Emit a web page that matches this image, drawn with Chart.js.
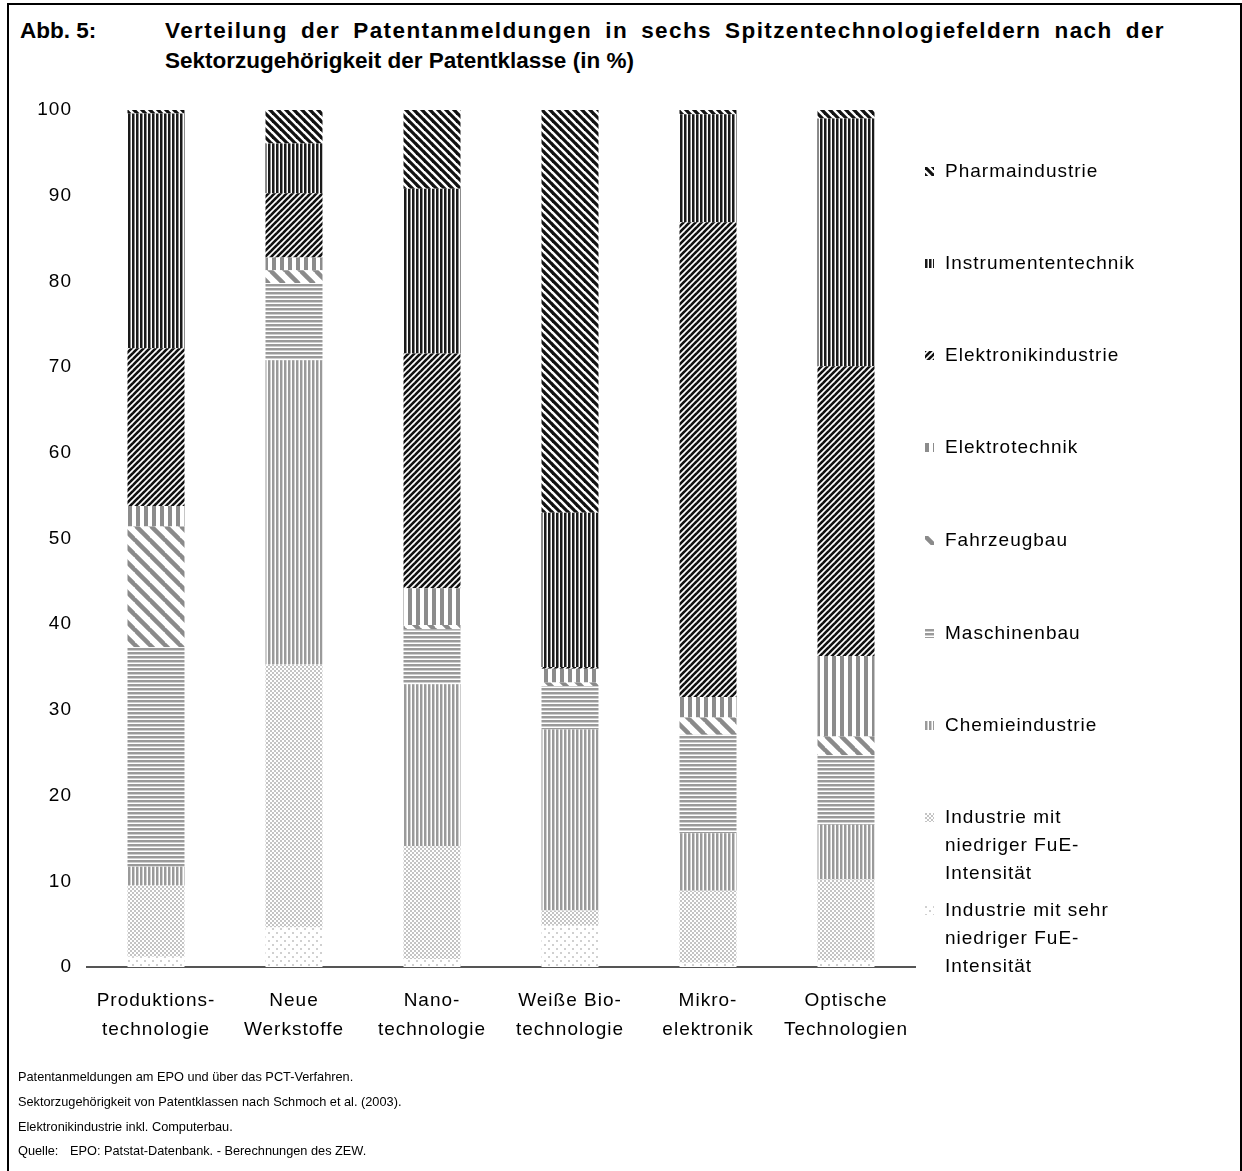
<!DOCTYPE html>
<html>
<head>
<meta charset="utf-8">
<script src="https://cdn.jsdelivr.net/npm/chart.js@4.4.0/dist/chart.umd.min.js"></script>
<style>
  body { margin: 0; background: #fff; font-family: 'Liberation Sans', Arial, sans-serif; }
  #wrap { position: relative; width: 1242px; height: 1171px; overflow: hidden; }
  #frame { position: absolute; left: 7px; top: 3px; width: 1231px; height: 1200px; border: 2px solid #000; }
  .title { position: absolute; font-weight: bold; font-size: 22.5px; color: #000; white-space: nowrap; }
  .just { white-space: normal; width: 1000px; letter-spacing: 1.4px; text-align: justify; text-align-last: justify; }
  #chart { position: absolute; left: 0; top: 0; }
  .leg { position: absolute; left: 925px; font-size: 19px; letter-spacing: 1px; line-height: 28px; color: #000; }
  .leg canvas { position: absolute; left: 0; top: 10px; }
  .leg span { position: absolute; left: 20px; top: 0; white-space: nowrap; }
  .note { position: absolute; left: 18px; font-size: 12.75px; color: #000; white-space: nowrap; }
</style>
</head>
<body>
<div id="wrap">
  <div id="frame"></div>
  <div class="title" style="left:20px;top:18px;">Abb. 5:</div>
  <div class="title just" style="left:165px;top:18px;">Verteilung der Patentanmeldungen in sechs Spitzentechnologiefeldern nach der</div>
  <div class="title" style="left:165px;top:48px;">Sektorzugehörigkeit der Patentklasse (in %)</div>
  <canvas id="chart" width="1242" height="1171"></canvas>
  <div id="legend"></div>
  <div class="note" style="top:1069px;">Patentanmeldungen am EPO und über das PCT-Verfahren.</div>
  <div class="note" style="top:1094px;">Sektorzugehörigkeit von Patentklassen nach Schmoch et al. (2003).</div>
  <div class="note" style="top:1119px;">Elektronikindustrie inkl. Computerbau.</div>
  <div class="note" style="top:1143px;">Quelle:<span style="position:absolute;left:52px;">EPO: Patstat-Datenbank. - Berechnungen des ZEW.</span></div>
</div>
<script>
// Kategorien (Spitzentechnologiefelder)
const kategorien = [
    ['Produktions-', 'technologie'],
    ['Neue', 'Werkstoffe'],
    ['Nano-', 'technologie'],
    ['Weiße Bio-', 'technologie'],
    ['Mikro-', 'elektronik'],
    ['Optische', 'Technologien']
];

// Anteile in % je Sektor (von unten nach oben gestapelt)
const sehrNiedrig    = [1.2, 4.6, 0.9, 4.8, 0.5, 0.8];
const niedrig        = [8.3, 30.7, 13.2, 1.8, 8.4, 9.4];
const chemie         = [2.2, 35.5, 18.9, 21.1, 6.7, 6.4];
const maschinenbau   = [25.6, 9.0, 6.4, 5.1, 11.5, 8.1];
const fahrzeugbau    = [14.1, 1.5, 0.5, 0.4, 2.0, 2.2];
const elektrotechnik = [2.4, 1.5, 4.3, 1.6, 2.4, 9.4];
const elektronik     = [18.4, 7.5, 27.4, 0.2, 55.4, 33.8];
const instrumente    = [27.4, 5.8, 19.2, 18.0, 12.6, 28.9];
const pharma         = [0.4, 3.9, 9.2, 47.0, 0.5, 1.0];

const yTicks = [0, 10, 20, 30, 40, 50, 60, 70, 80, 90, 100];

const FONT = "'Liberation Sans', Arial, sans-serif";

// Muster-Hilfsfunktionen
function tile(w, h, draw) {
    const c = document.createElement('canvas');
    c.width = w; c.height = h;
    const g = c.getContext('2d');
    g.fillStyle = '#fff';
    g.fillRect(0, 0, w, h);
    draw(g, w, h);
    return c;
}

function vStripes(period, lineW, color, color2) {
    return tile(period, period, (g, w, h) => {
        if (color2) { g.fillStyle = color2; g.fillRect(lineW, 0, 1, h); }
        g.fillStyle = color;
        g.fillRect(0, 0, lineW, h);
    });
}

function hStripes(period, lineW, color, color2) {
    return tile(period, period, (g, w, h) => {
        if (color2) { g.fillStyle = color2; g.fillRect(0, lineW, w, 1); }
        g.fillStyle = color;
        g.fillRect(0, 0, w, lineW);
    });
}

function diag(period, lineW, color, dir) {
    return tile(period, period, (g, w, h) => {
        g.strokeStyle = color;
        g.lineWidth = lineW;
        for (let k = -1; k <= 1; k++) {
            g.beginPath();
            if (dir === 'back') {
                g.moveTo(-1, k * h - 1);
                g.lineTo(w + 1, k * h + h + 1);
            } else {
                g.moveTo(-1, k * h + h + 1);
                g.lineTo(w + 1, k * h - 1);
            }
            g.stroke();
        }
    });
}

function dots(step, size, color) {
    return tile(step, step, (g, w, h) => {
        g.fillStyle = color;
        g.fillRect(0, 0, size, size);
        g.fillRect(step / 2, step / 2, size, size);
    });
}

const musterQuellen = {
    sehrNiedrig:    dots(8, 2, '#d0d0d0'),
    niedrig:        dots(4, 2, '#c4c4c4'),
    chemie:         vStripes(4, 2, '#9a9a9a', '#cfcfcf'),
    maschinenbau:   hStripes(4, 2, '#9a9a9a', '#cfcfcf'),
    fahrzeugbau:    diag(15, 4.5, '#8a8a8a', 'back'),
    elektrotechnik: vStripes(8, 4, '#8c8c8c'),
    elektronik:     diag(6, 2.6, '#111', 'fwd'),
    instrumente:    vStripes(4, 2, '#1a1a1a', '#888'),
    pharma:         diag(8, 3.2, '#111', 'back')
};

const ctx = document.getElementById('chart').getContext('2d');
const muster = {};
for (const k in musterQuellen) muster[k] = ctx.createPattern(musterQuellen[k], 'repeat');

const serien = [
    { label: 'Industrie mit sehr niedriger FuE-Intensität', data: sehrNiedrig, key: 'sehrNiedrig', lines: ['Industrie mit sehr', 'niedriger FuE-', 'Intensität'] },
    { label: 'Industrie mit niedriger FuE-Intensität', data: niedrig, key: 'niedrig', lines: ['Industrie mit', 'niedriger FuE-', 'Intensität'] },
    { label: 'Chemieindustrie', data: chemie, key: 'chemie' },
    { label: 'Maschinenbau', data: maschinenbau, key: 'maschinenbau' },
    { label: 'Fahrzeugbau', data: fahrzeugbau, key: 'fahrzeugbau' },
    { label: 'Elektrotechnik', data: elektrotechnik, key: 'elektrotechnik' },
    { label: 'Elektronikindustrie', data: elektronik, key: 'elektronik' },
    { label: 'Instrumententechnik', data: instrumente, key: 'instrumente' },
    { label: 'Pharmaindustrie', data: pharma, key: 'pharma' }
];

// etwas gesperrte Schrift wie im Original
const sperrung = {
    id: 'sperrung',
    beforeUpdate: chart => { chart.ctx.letterSpacing = '1px'; },
    beforeDraw: chart => { chart.ctx.letterSpacing = '1px'; }
};

new Chart(ctx, {
    type: 'bar',
    data: {
        labels: kategorien,
        datasets: serien.map(s => ({
            label: s.label,
            data: s.data,
            backgroundColor: muster[s.key],
            borderWidth: 0,
            categoryPercentage: 1,
            barPercentage: 0.413
        }))
    },
    plugins: [sperrung],
    options: {
        responsive: false,
        animation: false,
        layout: { padding: { left: 0, right: 327, top: 110, bottom: 124 } },
        plugins: { legend: { display: false }, tooltip: { enabled: false } },
        scales: {
            x: {
                stacked: true,
                grid: { display: false, drawTicks: false },
                border: { display: true, color: '#555', width: 2 },
                ticks: { color: '#000', font: { family: FONT, size: 19, lineHeight: 1.55 }, padding: 19, maxRotation: 0, autoSkip: false },
                afterFit: s => { s.height = 80; }
            },
            y: {
                stacked: true,
                min: 0, max: 100,
                afterBuildTicks: s => { s.ticks = yTicks.map(v => ({ value: v })); },
                grid: { display: false, drawTicks: false },
                border: { display: false },
                ticks: { color: '#000', font: { family: FONT, size: 19 }, padding: 15 },
                afterFit: s => { s.width = 87; }
            }
        }
    }
});

// Legende rechts (umgekehrte Reihenfolge)
const legendeY = [171, 263, 355, 447, 540, 633, 725, 817, 910];
const leg = document.getElementById('legend');
serien.slice().reverse().forEach((s, i) => {
    const d = document.createElement('div');
    d.className = 'leg';
    d.style.top = (legendeY[i] - 14) + 'px';
    const c = document.createElement('canvas');
    c.width = 9; c.height = 9;
    const g = c.getContext('2d');
    g.fillStyle = g.createPattern(musterQuellen[s.key], 'repeat');
    g.fillRect(0, 0, 9, 9);
    d.appendChild(c);
    const sp = document.createElement('span');
    sp.innerHTML = (s.lines || [s.label]).join('<br>');
    d.appendChild(sp);
    leg.appendChild(d);
});
</script>
</body>
</html>
